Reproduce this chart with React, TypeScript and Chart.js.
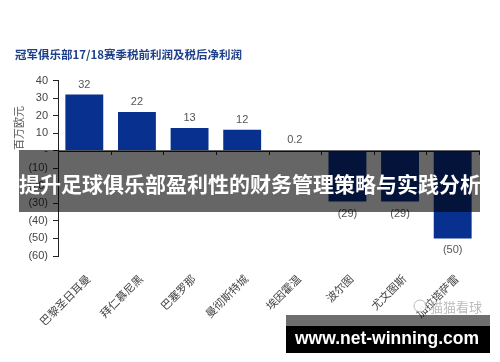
import React, { useEffect, useRef } from 'react';
import { Chart, registerables } from 'chart.js';

Chart.register(...registerables);

const chartTitle = '冠军俱乐部17/18赛季税前利润及税后净利润';
const yAxisTitle = '百万欧元';
const categories = ['巴黎圣日耳曼', '拜仁慕尼黑', '巴塞罗那', '曼彻斯特城', '埃因霍温', '波尔图', '尤文图斯', '加拉塔萨雷'];
const profits = [32, 22, 13, 12, 0.2, -29, -29, -50];
const yMin = -60;
const yMax = 40;
const yStep = 10;
const bannerText = '提升足球俱乐部盈利性的财务管理策略与实践分析';
const siteText = 'www.net-winning.com';
const watermarkText = '猫猫看球';

const LATIN = '"Liberation Sans", Arial, "Noto Sans CJK SC", sans-serif';
const CJK = '"Noto Sans CJK SC", "Liberation Sans", sans-serif';

const fmt = (v: number) => {
  if (v === 0) return '-';
  if (v < 0) return `(${Math.abs(v)})`;
  return `${v}`;
};

const decorPlugin = {
  id: 'decor',
  afterDraw(chart: any) {
    const { ctx, chartArea, scales } = chart;
    const ys = scales.y;
    const y0 = ys.getPixelForValue(0);
    ctx.save();

    // zero axis line with category boundary ticks
    ctx.strokeStyle = '#222';
    ctx.lineWidth = 1;
    ctx.beginPath();
    ctx.moveTo(chartArea.left, Math.round(y0) + 0.5);
    ctx.lineTo(chartArea.right, Math.round(y0) + 0.5);
    const n = categories.length;
    const w = (chartArea.right - chartArea.left) / n;
    for (let k = 1; k <= n; k++) {
      const x = Math.round(chartArea.left + k * w) + 0.5;
      ctx.moveTo(x, Math.round(y0));
      ctx.lineTo(x, Math.round(y0) + 4);
    }
    ctx.stroke();

    // value labels
    const meta = chart.getDatasetMeta(0);
    ctx.font = `11px ${LATIN}`;
    ctx.fillStyle = '#555';
    ctx.textAlign = 'center';
    ctx.textBaseline = 'middle';
    meta.data.forEach((bar: any, i: number) => {
      const v = profits[i];
      const y = v >= 0 ? bar.y - 10 : bar.y + 12;
      ctx.fillText(fmt(v), bar.x, y);
    });

    // y axis title
    ctx.save();
    ctx.translate(19, 128);
    ctx.rotate(-Math.PI / 2);
    ctx.font = `11px ${CJK}`;
    ctx.fillStyle = '#555';
    ctx.textAlign = 'center';
    ctx.textBaseline = 'middle';
    ctx.fillText(yAxisTitle, 0, 0);
    ctx.restore();

    // watermark
    ctx.strokeStyle = 'rgba(170,170,170,0.8)';
    ctx.fillStyle = 'rgba(255,255,255,0.9)';
    ctx.beginPath();
    ctx.arc(420, 306, 6, 0, Math.PI * 2);
    ctx.fill();
    ctx.stroke();
    ctx.font = `13px ${CJK}`;
    ctx.fillStyle = 'rgba(175,175,175,0.85)';
    ctx.textAlign = 'left';
    ctx.fillText(watermarkText, 430, 307);

    // banner overlay
    ctx.fillStyle = 'rgba(0,0,0,0.6)';
    ctx.fillRect(19, 150, 461, 62);
    ctx.font = `bold 21px ${CJK}`;
    ctx.fillStyle = '#fff';
    ctx.textAlign = 'center';
    ctx.textBaseline = 'middle';
    ctx.fillText(bannerText, 250, 184);

    // site box
    ctx.fillStyle = 'rgba(0,0,0,0.57)';
    ctx.fillRect(286, 315, 204, 11);
    ctx.fillStyle = '#000';
    ctx.fillRect(286, 326, 204, 27);
    ctx.font = `bold 17.5px ${LATIN}`;
    ctx.fillStyle = '#fff';
    ctx.fillText(siteText, 387, 339);

    ctx.restore();
  },
};

export default function App() {
  const ref = useRef<HTMLCanvasElement>(null);
  useEffect(() => {
    if (!ref.current) return;
    const chart = new Chart(ref.current, {
      type: 'bar',
      data: {
        labels: categories,
        datasets: [
          {
            data: profits,
            backgroundColor: '#08308f',
            barPercentage: 0.72,
            categoryPercentage: 1,
          },
        ],
      },
      plugins: [decorPlugin],
      options: {
        animation: false,
        responsive: false,
        layout: { padding: { left: 15, right: 21, top: 0, bottom: 0 } },
        plugins: {
          legend: { display: false },
          tooltip: { enabled: false },
          title: {
            display: true,
            text: chartTitle,
            align: 'start',
            color: '#1e4088',
            font: { size: 11.5, weight: 'bold', family: CJK },
            padding: { top: 48, bottom: 18.7 },
          },
        },
        scales: {
          x: {
            grid: { display: false, drawTicks: false },
            border: { display: false },
            ticks: {
              minRotation: 45,
              maxRotation: 45,
              autoSkip: false,
              padding: 16,
              labelOffset: 4,
              color: '#444',
              font: { size: 11, family: CJK },
            },
            afterFit(scale: any) {
              scale.height = 106;
              scale.paddingLeft = 0;
              scale.paddingRight = 0;
            },
          },
          y: {
            min: yMin,
            max: yMax,
            grid: { drawOnChartArea: false, drawTicks: true, tickLength: 5, color: '#222' },
            border: { display: true, color: '#222' },
            ticks: {
              stepSize: yStep,
              padding: 5,
              color: '#444',
              font: { size: 11, family: LATIN },
              callback: (v: any) => fmt(Number(v)),
            },
            afterFit(scale: any) {
              scale.width = 43;
            },
          },
        },
      },
    });
    return () => chart.destroy();
  }, []);
  return (
    <div style={{ position: 'absolute', left: 0, top: 0, width: 500, height: 362, background: '#fff' }}>
      <canvas ref={ref} width={500} height={362} style={{ display: 'block' }} />
    </div>
  );
}
